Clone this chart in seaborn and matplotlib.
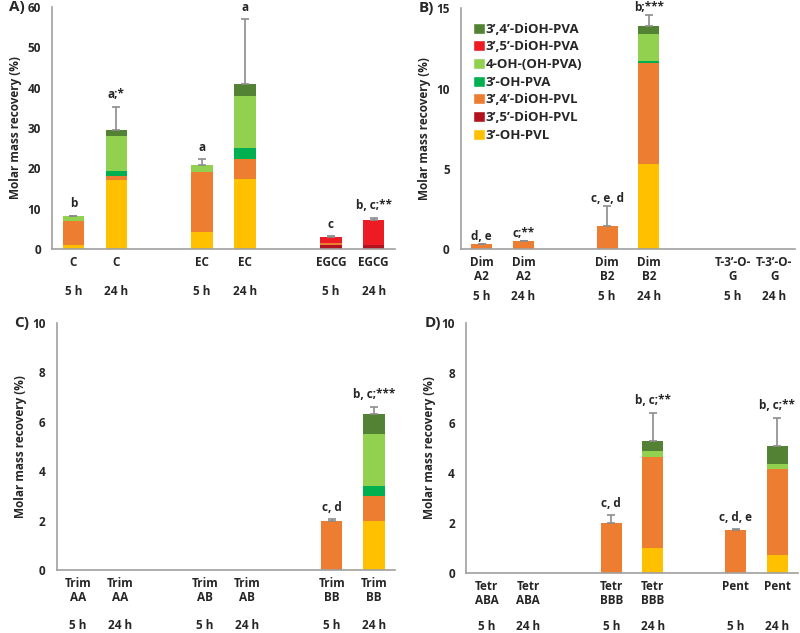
import numpy as np
import pandas as pd
import matplotlib
matplotlib.use("Agg")
import matplotlib.pyplot as plt
from matplotlib.patches import Patch
import seaborn as sns

# series names (bottom of the stack first) and colours
series = ["3’-OH-PVL", "3’,5’-DiOH-PVL", "3’,4’-DiOH-PVL", "3’-OH-PVA",
          "4-OH-(OH-PVA)", "3’,5’-DiOH-PVA", "3’,4’-DiOH-PVA"]
colors = ["#FFC000", "#B3121F", "#ED7D31", "#00B050",
          "#92D050", "#ED1C24", "#548235"]

times = ["5 h", "24 h"] * 3
positions = [0, 1, 3, 4, 6, 7]

# Panel A - monomers
A_names = ["C", "C", "EC", "EC", "EGCG", "EGCG"]
A_oh_pvl = [0.9, 17.0, 4.1, 17.3, 0, 0]
A_dioh35_pvl = [0, 0, 0, 0, 0.9, 1.1]
A_dioh34_pvl = [6.1, 1.2, 14.9, 4.9, 0.6, 0]
A_oh_pva = [0, 1.1, 0, 2.8, 0, 0]
A_oh4_pva = [1.1, 8.7, 1.8, 12.9, 0, 0]
A_dioh35_pva = [0, 0, 0, 0, 1.6, 6.0]
A_dioh34_pva = [0, 1.6, 0, 2.9, 0, 0]
A_err = [0.1, 5.6, 1.5, 16.2, 0.1, 0.7]
A_sig = ["b", "a;*", "a", "a", "c", "b, c;**"]

# Panel B - dimers
B_names = ["Dim\nA2", "Dim\nA2", "Dim\nB2", "Dim\nB2", "T-3’-O-\nG", "T-3’-O-\nG"]
B_oh_pvl = [0, 0, 0, 5.3, 0, 0]
B_dioh35_pvl = [0, 0, 0, 0, 0, 0]
B_dioh34_pvl = [0.3, 0.5, 1.45, 6.3, 0, 0]
B_oh_pva = [0, 0, 0, 0.15, 0, 0]
B_oh4_pva = [0, 0, 0, 1.65, 0, 0]
B_dioh35_pva = [0, 0, 0, 0, 0, 0]
B_dioh34_pva = [0, 0, 0, 0.5, 0, 0]
B_err = [0.02, 0.02, 1.25, 0.7, 0, 0]
B_sig = ["d, e", "c;**", "c, e, d", "b;***", "", ""]

# Panel C - trimers
C_names = ["Trim\nAA", "Trim\nAA", "Trim\nAB", "Trim\nAB", "Trim\nBB", "Trim\nBB"]
C_oh_pvl = [0, 0, 0, 0, 0, 2.0]
C_dioh35_pvl = [0, 0, 0, 0, 0, 0]
C_dioh34_pvl = [0, 0, 0, 0, 2.0, 1.0]
C_oh_pva = [0, 0, 0, 0, 0, 0.4]
C_oh4_pva = [0, 0, 0, 0, 0, 2.1]
C_dioh35_pva = [0, 0, 0, 0, 0, 0]
C_dioh34_pva = [0, 0, 0, 0, 0, 0.8]
C_err = [0, 0, 0, 0, 0.05, 0.3]
C_sig = ["", "", "", "", "c, d", "b, c;***"]

# Panel D - tetramer / pentamer
D_names = ["Tetr\nABA", "Tetr\nABA", "Tetr\nBBB", "Tetr\nBBB", "Pent\n", "Pent\n"]
D_oh_pvl = [0, 0, 0, 1.0, 0, 0.7]
D_dioh35_pvl = [0, 0, 0, 0, 0, 0]
D_dioh34_pvl = [0, 0, 2.0, 3.65, 1.7, 3.45]
D_oh_pva = [0, 0, 0, 0, 0, 0]
D_oh4_pva = [0, 0, 0, 0.25, 0, 0.2]
D_dioh35_pva = [0, 0, 0, 0, 0, 0]
D_dioh34_pva = [0, 0, 0, 0.4, 0, 0.75]
D_err = [0, 0, 0.3, 1.1, 0.05, 1.1]
D_sig = ["", "", "c, d", "b, c;**", "c, d, e", "b, c;**"]

sns.set_style("white")
plt.rcParams["font.family"] = ["Open Sans", "DejaVu Sans"]
plt.rcParams["font.weight"] = "bold"

fig = plt.figure(figsize=(8, 6.33), dpi=100)
axA = fig.add_axes([0.065, 0.6066, 0.429, 0.3824])
axB = fig.add_axes([0.576, 0.6066, 0.418, 0.3800])
axC = fig.add_axes([0.071, 0.0995, 0.423, 0.3902])
axD = fig.add_axes([0.5825, 0.0948, 0.415, 0.3949])

grey = "#A0A0A0"
txt = "#262626"
fs = 8.5


def stacked(ax, layers, err, sig, names, ymax, ystep, label, time_px, sig_pt):
    df = pd.DataFrame(dict(zip(series, layers)))
    df["pos"] = positions
    cum = df[series].cumsum(axis=1)
    # draw from the top of the stack down so lower layers cover the upper ones
    for name, col in reversed(list(zip(series, colors))):
        sns.barplot(x=df["pos"], y=cum[name], native_scale=True, color=col,
                    width=0.5, errorbar=None, linewidth=0, saturation=1, ax=ax)
    total = cum[series[-1]].values
    for x, t, e, s in zip(positions, total, err, sig):
        if t <= 0:
            continue
        ax.errorbar(x, t, yerr=[[0], [e]], fmt="none", ecolor="#8C8C8C",
                    elinewidth=1.2, capsize=3, capthick=1.2)
        ax.annotate(s, (x, t + e), xytext=(0, sig_pt), textcoords="offset points",
                    ha="center", va="bottom", fontsize=fs, fontweight="bold",
                    color=txt, annotation_clip=False)
    ax.set_xlim(-0.5, 7.5)
    ax.set_ylim(0, ymax)
    ax.set_yticks(np.arange(0, ymax + 0.01, ystep))
    ax.set_xticks(positions)
    ax.set_xticklabels(names, fontsize=fs, fontweight="bold", color=txt,
                       linespacing=1.15)
    plt.setp(ax.get_yticklabels(), fontweight="bold", fontsize=fs, color=txt)
    ax.tick_params(axis="y", length=0, pad=8)
    ax.tick_params(axis="x", length=0, pad=5)
    for x, t in zip(positions, times):
        ax.annotate(t, (x, 0), xycoords=("data", "axes fraction"),
                    xytext=(0, -time_px), textcoords="offset pixels",
                    ha="center", va="center", fontsize=fs, fontweight="bold",
                    color=txt)
    ax.set_xlabel("")
    ax.set_ylabel("Molar mass recovery (%)", fontsize=fs, fontweight="bold",
                  color=txt)
    sns.despine(ax=ax)
    for sp in ["left", "bottom"]:
        ax.spines[sp].set_color(grey)
        ax.spines[sp].set_linewidth(1.2)
    ax.text(-0.125, 1.0, label, transform=ax.transAxes, fontsize=11,
            fontweight="bold", ha="left", va="center", color=txt)


stacked(axA, [A_oh_pvl, A_dioh35_pvl, A_dioh34_pvl, A_oh_pva, A_oh4_pva,
              A_dioh35_pva, A_dioh34_pva], A_err, A_sig, A_names, 60, 10,
        "A)", 42, 4)
stacked(axB, [B_oh_pvl, B_dioh35_pvl, B_dioh34_pvl, B_oh_pva, B_oh4_pva,
              B_dioh35_pva, B_dioh34_pva], B_err, B_sig, B_names, 15, 5,
        "B)", 47, 0.5)
stacked(axC, [C_oh_pvl, C_dioh35_pvl, C_dioh34_pvl, C_oh_pva, C_oh4_pva,
              C_dioh35_pva, C_dioh34_pva], C_err, C_sig, C_names, 10, 2,
        "C)", 55, 4)
stacked(axD, [D_oh_pvl, D_dioh35_pvl, D_dioh34_pvl, D_oh_pva, D_oh4_pva,
              D_dioh35_pva, D_dioh34_pva], D_err, D_sig, D_names, 10, 2,
        "D)", 54, 4)

handles = [Patch(facecolor=c, label=s) for s, c in zip(series, colors)][::-1]
axB.legend(handles=handles, loc="upper left", bbox_to_anchor=(0.0, 0.99),
           frameon=False, prop={"size": 9.5, "weight": "bold"},
           handlelength=0.9, handleheight=0.9, handletextpad=0.1,
           labelspacing=0.35)

fig.savefig("out.png", dpi=100)
